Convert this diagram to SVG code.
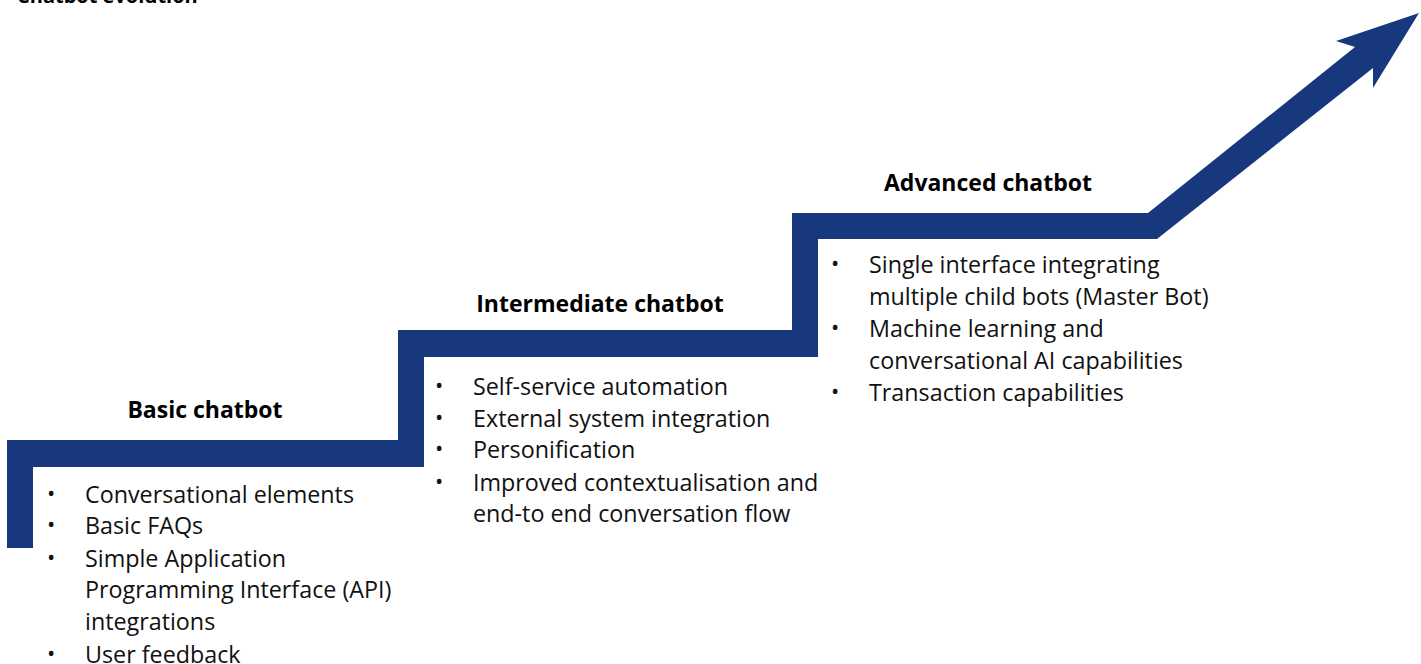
<svg xmlns="http://www.w3.org/2000/svg" width="1421" height="664" viewBox="0 0 1421 664">
<style>
.h{font-family:"Open Sans","Noto Sans","Liberation Sans",sans-serif;font-weight:700;font-size:23px;fill:#000}
.b{font-family:"Open Sans","Noto Sans","Liberation Sans",sans-serif;font-size:23.3px;fill:#111}
.d{font-family:"Open Sans","Noto Sans","Liberation Sans",sans-serif;font-size:22px;fill:#111}
</style>
<rect width="1421" height="664" fill="#fff"/>
<text class="h" x="17" y="3" style="font-size:20px">Chatbot evolution</text>
<g id="connectors">
<polygon fill="#17387d" points="7,548 7,440 398,440 398,330 792,330 792,213 1148,213 1355,47 1336,41 1419,13 1373,88 1373,68 1157,239 818,239 818,357 424,357 424,467 33,467 33,548"/>
</g>
<g id="basic">
<text class="h" x="205" y="418" text-anchor="middle">Basic chatbot</text>
<text class="d" x="47" y="501">•</text><text class="b" x="85" y="503">Conversational elements</text>
<text class="d" x="47" y="532">•</text><text class="b" x="85" y="534">Basic FAQs</text>
<text class="d" x="47" y="565">•</text><text class="b" x="85" y="567">Simple Application</text>
<text class="b" x="85" y="598">Programming Interface (API)</text>
<text class="b" x="85" y="630">integrations</text>
<text class="d" x="47" y="661">•</text><text class="b" x="85" y="663">User feedback</text>
</g>
<g id="intermediate">
<text class="h" x="600" y="312" text-anchor="middle">Intermediate chatbot</text>
<text class="d" x="435" y="393">•</text><text class="b" x="473" y="395">Self-service automation</text>
<text class="d" x="435" y="425">•</text><text class="b" x="473" y="427">External system integration</text>
<text class="d" x="435" y="456">•</text><text class="b" x="473" y="458">Personification</text>
<text class="d" x="435" y="489">•</text><text class="b" x="473" y="491">Improved contextualisation and</text>
<text class="b" x="473" y="522">end-to end conversation flow</text>
</g>
<g id="advanced">
<text class="h" x="988" y="191" text-anchor="middle">Advanced chatbot</text>
<text class="d" x="831" y="271">•</text><text class="b" x="869" y="273">Single interface integrating</text>
<text class="b" x="869" y="305">multiple child bots (Master Bot)</text>
<text class="d" x="831" y="335">•</text><text class="b" x="869" y="337">Machine learning and</text>
<text class="b" x="869" y="369">conversational AI capabilities</text>
<text class="d" x="831" y="399">•</text><text class="b" x="869" y="401">Transaction capabilities</text>
</g>
</svg>
